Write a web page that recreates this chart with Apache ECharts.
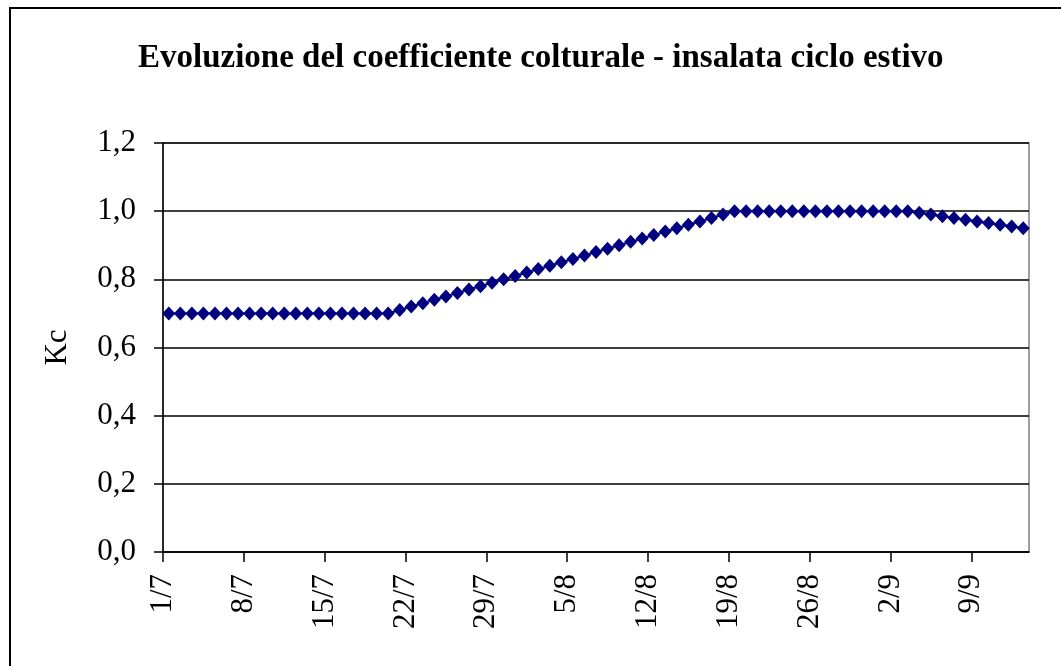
<!DOCTYPE html>
<html>
<head>
<meta charset="utf-8">
<script src="https://cdn.jsdelivr.net/npm/echarts@6/dist/echarts.min.js"></script>
<style>
html,body{margin:0;padding:0;background:#fff;}
#chart{width:1061px;height:666px;}
</style>
</head>
<body>
<div id="chart"></div>
<script>
// Daily dates from 1/7 to 13/9
const dates = [
  '1/7','2/7','3/7','4/7','5/7','6/7','7/7','8/7','9/7','10/7',
  '11/7','12/7','13/7','14/7','15/7','16/7','17/7','18/7','19/7','20/7',
  '21/7','22/7','23/7','24/7','25/7','26/7','27/7','28/7','29/7','30/7',
  '31/7','1/8','2/8','3/8','4/8','5/8','6/8','7/8','8/8','9/8',
  '10/8','11/8','12/8','13/8','14/8','15/8','16/8','17/8','18/8','19/8',
  '20/8','21/8','22/8','23/8','24/8','25/8','26/8','27/8','28/8','29/8',
  '30/8','31/8','1/9','2/9','3/9','4/9','5/9','6/9','7/9','8/9',
  '9/9','10/9','11/9','12/9','13/9'
];
// Kc values
const kc = [
  0.70,0.70,0.70,0.70,0.70,0.70,0.70,0.70,0.70,0.70,
  0.70,0.70,0.70,0.70,0.70,0.70,0.70,0.70,0.70,0.70,
  0.71,0.72,0.73,0.74,0.75,0.76,0.77,0.78,0.79,0.80,
  0.81,0.82,0.83,0.84,0.85,0.86,0.87,0.88,0.89,0.90,
  0.91,0.92,0.93,0.94,0.95,0.96,0.97,0.98,0.99,1.00,
  1.00,1.00,1.00,1.00,1.00,1.00,1.00,1.00,1.00,1.00,
  1.00,1.00,1.00,1.00,1.00,0.995,0.99,0.985,0.98,0.975,
  0.97,0.965,0.96,0.955,0.95
];
const tickLabels = ['1/7','8/7','15/7','22/7','29/7','5/8','12/8','19/8','26/8','2/9','9/9'];
const titleText = 'Evoluzione del coefficiente colturale - insalata ciclo estivo';
const yName = 'Kc';

const slotCount = 75;
const tickStep = 7;
const tickPositions = tickLabels.map((_, i) => i * tickStep);
const seriesData = kc.map((v, i) => [i + 0.5, v]);

const serif = '"Liberation Serif","Times New Roman",serif';
const chart = echarts.init(document.getElementById('chart'), null, {renderer: 'canvas'});
chart.setOption({
  animation: false,
  backgroundColor: '#fff',
  title: {
    text: titleText,
    left: 133,
    top: 37,
    textStyle: {fontFamily: serif, fontWeight: 'bold', fontSize: 33, color: '#000'}
  },
  graphic: [{
    type: 'rect',
    shape: {x: 10, y: 8, width: 1100, height: 700},
    style: {fill: 'none', stroke: '#000', lineWidth: 2},
    silent: true
  }],
  grid: {
    left: 163, top: 143, width: 866, height: 409,
    show: true, borderColor: '#808080', borderWidth: 1.5, backgroundColor: 'transparent'
  },
  xAxis: {
    type: 'value',
    min: 0, max: slotCount, interval: tickStep,
    axisLine: {show: true, lineStyle: {color: '#000', width: 1.5}},
    axisTick: {show: true, length: 10, customValues: tickPositions, lineStyle: {color: '#000', width: 1.5}},
    splitLine: {show: false},
    axisLabel: {
      customValues: tickPositions,
      rotate: 90, margin: 22,
      fontFamily: serif, fontSize: 31, color: '#000',
      formatter: v => tickLabels[Math.round(v / tickStep)]
    }
  },
  yAxis: {
    type: 'value',
    min: 0, max: 1.2, interval: 0.2,
    name: yName, nameLocation: 'middle', nameRotate: 90, nameGap: 90,
    nameTextStyle: {fontFamily: serif, fontSize: 31, color: '#000'},
    axisLine: {show: true, lineStyle: {color: '#000', width: 1.5}},
    axisTick: {show: true, length: 9, lineStyle: {color: '#000', width: 1.5}},
    splitLine: {show: true, lineStyle: {color: '#000', width: 1.5}},
    axisLabel: {
      margin: 27,
      fontFamily: serif, fontSize: 31, color: '#000',
      formatter: v => v.toFixed(1).replace('.', ',')
    }
  },
  series: [{
    type: 'line',
    data: seriesData,
    symbol: 'diamond',
    symbolSize: [13, 14],
    showAllSymbol: true,
    lineStyle: {color: '#000080', width: 2},
    itemStyle: {color: '#000080'},
    clip: false
  }]
});
</script>
</body>
</html>
